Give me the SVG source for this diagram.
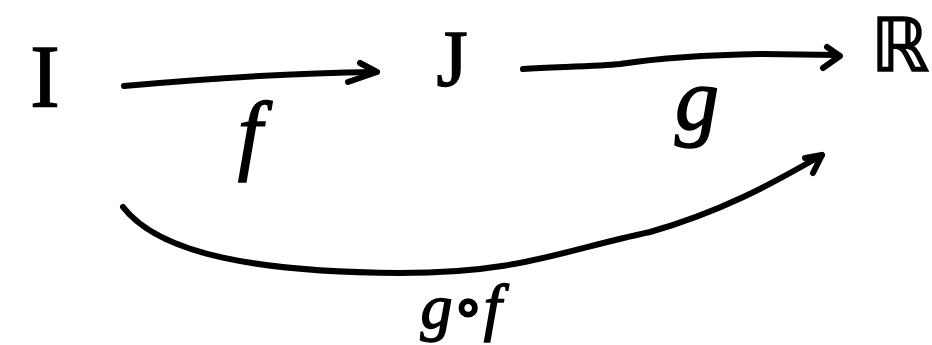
<svg xmlns="http://www.w3.org/2000/svg" width="932" height="345" viewBox="0 0 932 345">
  <style>
    .ink { fill: none; stroke: #000; stroke-width: 6; stroke-linecap: round; stroke-linejoin: round; }
    .node { font-family: "Liberation Serif", "DejaVu Serif", serif; fill: #000; stroke: #000; stroke-width: 1.5; text-anchor: middle; }
    .lbl { font-family: "Liberation Serif", "DejaVu Serif", serif; font-style: italic; fill: #000; stroke: #000; stroke-width: 1.5; text-anchor: middle; }
  </style>
  <rect width="932" height="345" fill="#fff"/>
  <g id="node-I">
    <text class="node" x="45" y="106" font-size="88">I</text>
  </g>
  <g id="node-J">
    <text class="node" x="452" y="86" font-size="80">J</text>
  </g>
  <g id="node-R">
    <text class="node" x="900" y="71" font-size="74" style="font-family: 'DejaVu Sans', sans-serif;">ℝ</text>
  </g>
  <g id="connectors">
    <g id="edge-f">
      <path class="ink" d="M124,86 C200,79 290,73 376,72"/>
      <path class="ink" d="M360,63 L377,72 L348,82"/>
      <text class="lbl" x="250" y="163" font-size="88">f</text>
    </g>
    <g id="edge-g">
      <path class="ink" d="M523,69 C560,67 600,66 620,64 C660,58 700,55 760,54 L838,55"/>
      <path class="ink" d="M827,47 L840,56 L823,68"/>
      <text class="lbl" x="697" y="129" font-size="88">g</text>
    </g>
    <g id="edge-gof">
      <path class="ink" d="M123,207 C160,255 260,272 400,273 C520,273 560,251 650,232 C720,212 770,185 822,155"/>
      <path class="ink" d="M805,158 L822,155 L813,173"/>
      <text class="lbl" x="461" y="328" font-size="64">g∘f</text>
    </g>
  </g>
</svg>
